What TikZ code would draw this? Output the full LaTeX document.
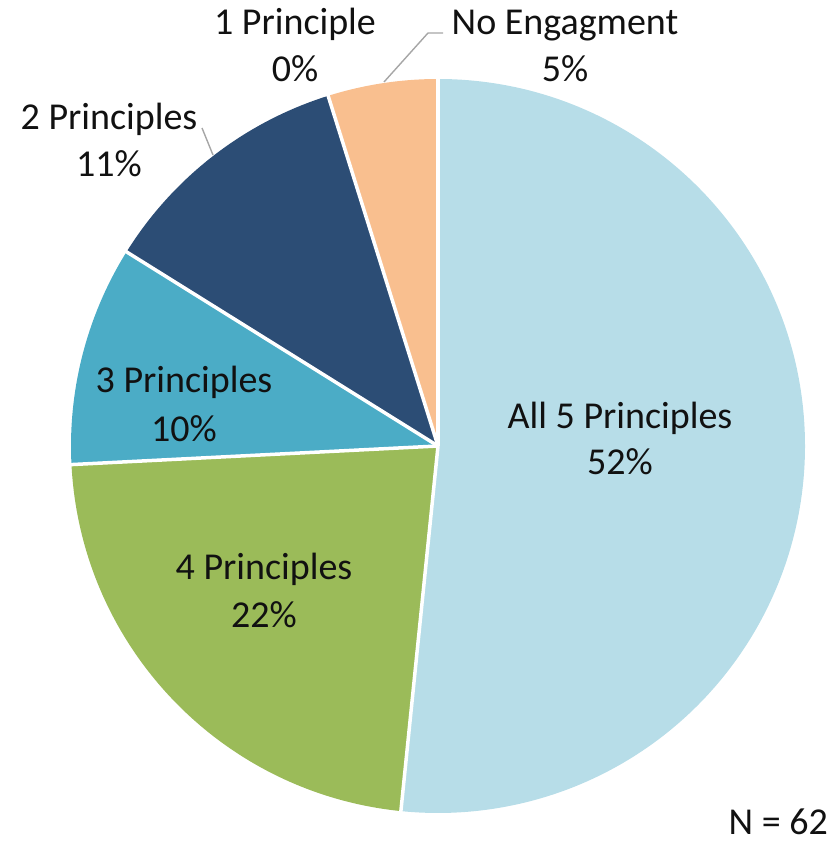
\documentclass[tikz,border=0pt]{standalone}
\usepackage{fontspec}
\setmainfont{Carlito}
\usetikzlibrary{calc}
\definecolor{cAll}{HTML}{B7DDE8}
\definecolor{cFour}{HTML}{9BBB59}
\definecolor{cThree}{HTML}{4BACC6}
\definecolor{cTwo}{HTML}{2C4D75}
\definecolor{cNone}{HTML}{F9BF8F}
\definecolor{cLead}{HTML}{A6A6A6}
\definecolor{cText}{HTML}{111111}
\tikzset{
  slice/.style={draw=white, line width=3.5pt, line join=round},
  lbl/.style={anchor=base, inner sep=0pt, text=cText, font=\fontsize{38}{46}\selectfont},
  leader/.style={draw=cLead, line width=1.4pt},
}
\begin{document}
\begin{tikzpicture}[x=1pt,y=1pt]
\useasboundingbox (0,0) rectangle (837,846);
\coordinate (c) at (438,400);
\def\R{367}
% slices
\fill[cAll]   (c) -- ++(90:\R) arc[start angle=90, end angle=-95.806, radius=\R] -- cycle;
\fill[cFour]  (c) -- ++(-95.806:\R) arc[start angle=-95.806, end angle=-177.097, radius=\R] -- cycle;
\fill[cThree] (c) -- ++(-177.097:\R) arc[start angle=-177.097, end angle=-211.935, radius=\R] -- cycle;
\fill[cTwo]   (c) -- ++(-211.935:\R) arc[start angle=-211.935, end angle=-252.581, radius=\R] -- cycle;
\fill[cNone]  (c) -- ++(-252.581:\R) arc[start angle=-252.581, end angle=-270, radius=\R] -- cycle;
% separators
\foreach \a in {90,-95.806,-177.097,-211.935,-252.581}
  \draw[slice] (c) -- ++(\a:\R+2);
% labels
\node[lbl] (all5) at (620,417) {All 5 Principles};
\node[lbl] (all5p) at (620,371) {52\%};
\node[lbl] (four) at (264,266) {4 Principles};
\node[lbl] (fourp) at (264,218) {22\%};
\node[lbl] (three) at (184,453) {3 Principles};
\node[lbl] (threep) at (184,404) {10\%};
\node[lbl] (two) at (109,716) {2 Principles};
\node[lbl] (twop) at (109,669) {11\%};
\node[lbl] (one) at (295,811) {1 Principle};
\node[lbl] (onep) at (295,764) {0\%};
\node[lbl] (none) at (565,811) {No Engagment};
\node[lbl] (nonep) at (565,764) {5\%};
\node[lbl, anchor=base east] (n) at (828,12) {N = 62};
% leader lines
\coordinate (twoEnd) at (213,691);
\coordinate (twoStart) at (202,718);
\draw[leader] (twoStart) -- (twoEnd);
\coordinate (noneEnd) at (384,764);
\coordinate (noneKnee) at (428,813);
\coordinate (noneStart) at (443,813);
\draw[leader] (noneStart) -- (noneKnee) -- (noneEnd);
\end{tikzpicture}
\end{document}
